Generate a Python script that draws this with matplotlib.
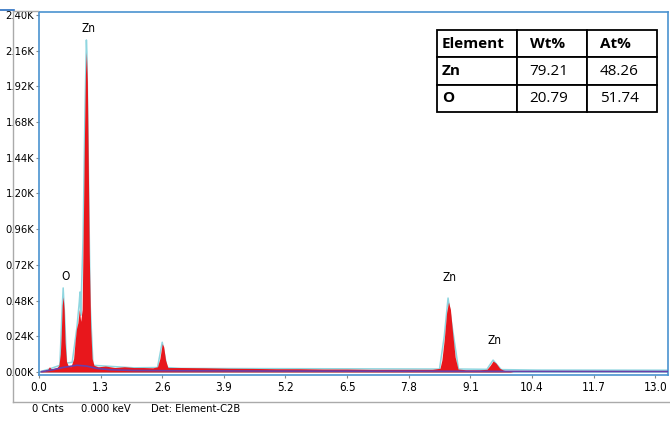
import numpy as np
import matplotlib.pyplot as plt
from matplotlib.lines import Line2D

# spectrum (keV, counts)
energia = [0.00, 0.10, 0.18, 0.22, 0.26, 0.32, 0.38, 0.42, 0.45, 0.47, 0.49, 0.51, 0.53,
           0.55, 0.58, 0.62, 0.67, 0.70, 0.73, 0.76, 0.79, 0.82, 0.85, 0.88, 0.91, 0.94,
           0.96, 0.98, 1.00, 1.02, 1.04, 1.06, 1.09, 1.12, 1.16, 1.25, 1.40, 1.60, 1.80,
           2.00, 2.20, 2.40, 2.50, 2.55, 2.60, 2.63, 2.67, 2.72, 3.00, 3.50, 4.00, 4.50,
           5.00, 5.50, 6.00, 6.50, 7.00, 7.50, 8.00, 8.30, 8.46, 8.50, 8.55, 8.60, 8.64,
           8.68, 8.73, 8.78, 8.84, 9.00, 9.30, 9.45, 9.52, 9.58, 9.64, 9.72, 9.80, 10.0,
           10.5, 11.5, 12.5, 13.3]
contagens = [0, 5, 15, 35, 20, 25, 30, 45, 120, 260, 450, 505, 420,
             200, 70, 40, 35, 60, 90, 200, 290, 330, 420, 340, 420, 1100,
             1600, 2000, 2150, 1950, 1400, 800, 300, 90, 45, 35, 40, 30, 35,
             30, 30, 28, 35, 90, 190, 170, 80, 30, 30, 28, 25, 24,
             22, 22, 20, 20, 18, 18, 18, 18, 25, 80, 220, 400, 470,
             420, 250, 100, 20, 15, 15, 18, 45, 74, 60, 25, 12, 0,
             0, 0, 0, 0]

# second (cyan) trace, only slightly above the red one
energia_ciano = [0.00, 0.20, 0.44, 0.48, 0.51, 0.54, 0.58, 0.70, 0.80, 0.85, 0.865, 0.88,
                 0.93, 0.97, 1.00, 1.01, 1.04, 1.08, 1.14, 2.0, 2.5, 2.6, 2.7, 3.0, 8.45,
                 8.55, 8.63, 8.70, 8.85, 9.45, 9.58, 9.75, 10.5, 13.3]
contagens_ciano = [0, 18, 45, 360, 565, 380, 60, 65, 300, 470, 538, 380,
                   900, 1750, 2232, 2150, 1420, 450, 45, 28, 30, 200, 30, 24, 20,
                   240, 497, 340, 20, 18, 80, 16, 13, 12]

# background fit (purple)
energia_fundo = [0.05, 0.3, 0.5, 0.8, 1.0, 1.2, 1.5, 2.0, 3.0, 5.0, 8.0, 10.0, 13.3]
contagens_fundo = [2, 15, 30, 45, 40, 25, 15, 10, 8, 6, 5, 4, 3]

picos = ["Zn", "O", "Zn", "Zn"]
picos_x = [1.05, 0.55, 8.67, 9.62]
picos_y = [2265, 598, 592, 168]

yticks = np.arange(0, 2401, 240)
ytick_labels = ["%.2fK" % (v / 1000) for v in yticks]
xticks = [0.0, 1.3, 2.6, 3.9, 5.2, 6.5, 7.8, 9.1, 10.4, 11.7, 13.0]

tabela_cab = ["Element", "Wt%", "At%"]
tabela = [["Zn", "79.21", "48.26"],
          ["O", "20.79", "51.74"]]

fonte = dict(family="DejaVu Sans", stretch="condensed")
azul = "#4a92d0"

fig = plt.figure(figsize=(6.7, 4.24), dpi=100)
ax = fig.add_axes([0.0575, 0.1167, 0.9395, 0.855])

ax.plot(energia_ciano, contagens_ciano, color="#8fd6e0", lw=1.1, zorder=2)
ax.fill_between(energia, contagens, 0, color="#e8171c", lw=0, zorder=3)
ax.plot(energia_fundo, contagens_fundo, color="#6a3fa8", lw=1.2, zorder=4)
ax.axhline(0, color="#8fd6e0", lw=1.2, zorder=1)

for nome, px, py in zip(picos, picos_x, picos_y):
    ax.text(px, py, nome, ha="center", va="bottom", fontsize=8.5, **fonte)

ax.set_xlim(-0.01, 13.27)
ax.set_ylim(-17, 2420)
ax.set_yticks(yticks)
ax.set_yticklabels(ytick_labels, fontsize=8, **fonte)
ax.set_xticks(xticks)
ax.set_xticklabels(["%.1f" % v for v in xticks], fontsize=8.5, **fonte)
ax.tick_params(axis="y", length=2, pad=1, color="#888888")
ax.tick_params(axis="x", length=2, pad=3, color="#888888")
for s in ax.spines.values():
    s.set_color(azul)
    s.set_linewidth(1.2)

# table in the upper right corner
t = ax.table(cellText=tabela, colLabels=tabela_cab, cellLoc="left", colLoc="left",
             colWidths=[80, 70, 70], bbox=[0.633, 0.724, 0.3495, 0.226])
t.auto_set_font_size(False)
for (r, c), cel in t.get_celld().items():
    cel.set_edgecolor("black")
    cel.set_linewidth(1.3)
    cel.PAD = 0.06 if c == 0 else 0.18
    peso = "bold" if (r == 0 or c == 0) else "normal"
    cel.get_text().set_fontweight(peso)
    cel.get_text().set_fontsize(11)
    cel.get_text().set_family("Open Sans")

# outer gray frame and status line
fig.add_artist(Line2D([13 / 670, 13 / 670], [1 - 11 / 424, 1 - 402 / 424], color="#aaaaaa", lw=1))
fig.add_artist(Line2D([13 / 670, 1], [1 - 402 / 424, 1 - 402 / 424], color="#aaaaaa", lw=1))
fig.add_artist(Line2D([13 / 670, 38 / 670], [1 - 11 / 424, 1 - 11 / 424], color="#aaaaaa", lw=1))
fig.add_artist(Line2D([0, 14 / 670], [1 - 10 / 424, 1 - 10 / 424], color="#2a6ec0", lw=1.2))

fig.text(32 / 670, 1 - 409 / 424, "0 Cnts", fontsize=8, va="center", **fonte)
fig.text(81 / 670, 1 - 409 / 424, "0.000 keV", fontsize=8, va="center", **fonte)
fig.text(151 / 670, 1 - 409 / 424, "Det: Element-C2B", fontsize=8, va="center", **fonte)

fig.savefig("out.png", dpi=100)
